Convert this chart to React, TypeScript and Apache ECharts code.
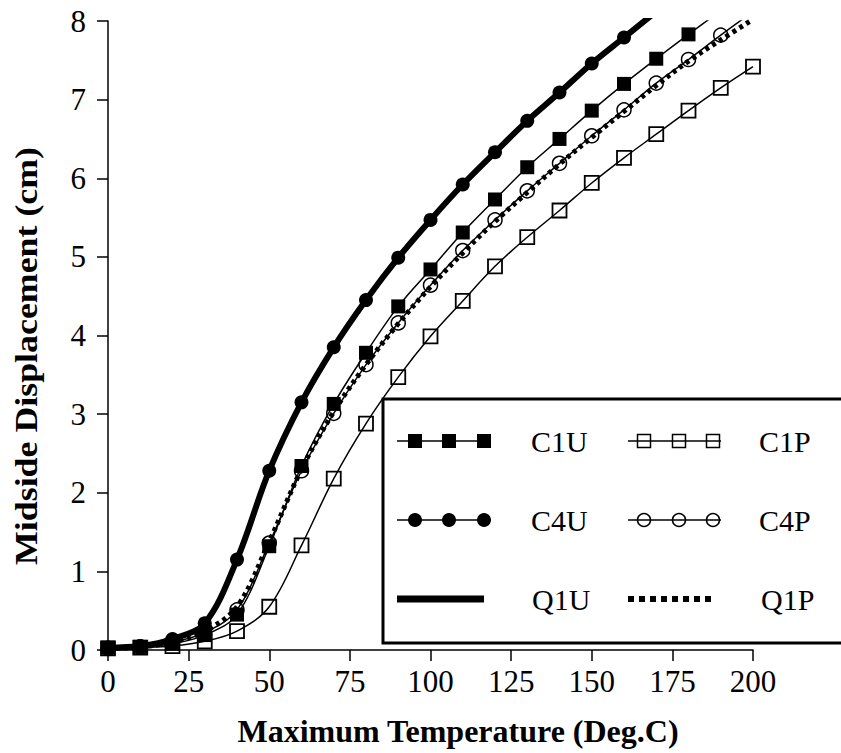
import React, { useEffect, useRef } from "react";
import * as echarts from "echarts";

const temps = [0, 10, 20, 30, 40, 50, 60, 70, 80, 90, 100, 110, 120, 130, 140, 150, 160, 170, 180, 190, 200];
const c1u = [0.03, 0.04, 0.08, 0.19, 0.45, 1.32, 2.34, 3.13, 3.78, 4.37, 4.84, 5.31, 5.73, 6.14, 6.5, 6.86, 7.2, 7.52, 7.83, 8.13, 8.42];
const c4u = [0.03, 0.05, 0.14, 0.34, 1.15, 2.28, 3.15, 3.85, 4.45, 4.99, 5.47, 5.92, 6.33, 6.73, 7.09, 7.46, 7.79, 8.12, 8.44, 8.75, 9.05];
const q1u = [0.03, 0.05, 0.14, 0.34, 1.15, 2.28, 3.15, 3.85, 4.45, 4.99, 5.47, 5.92, 6.33, 6.73, 7.09, 7.46, 7.79, 8.12, 8.44, 8.75, 9.05];
const c1p = [0.02, 0.03, 0.05, 0.11, 0.24, 0.55, 1.33, 2.18, 2.88, 3.47, 3.99, 4.44, 4.88, 5.25, 5.59, 5.94, 6.26, 6.56, 6.86, 7.15, 7.42];
const c4p = [0.02, 0.04, 0.1, 0.22, 0.51, 1.36, 2.28, 3.01, 3.63, 4.16, 4.64, 5.08, 5.47, 5.84, 6.19, 6.54, 6.87, 7.21, 7.51, 7.82, 8.12];
const q1p = [0.02, 0.04, 0.1, 0.24, 0.55, 1.38, 2.3, 3.03, 3.63, 4.15, 4.62, 5.05, 5.45, 5.82, 6.18, 6.52, 6.85, 7.18, 7.49, 7.76, 8.02];

const xTicks = [0, 25, 50, 75, 100, 125, 150, 175, 200];
const yTicks = [0, 1, 2, 3, 4, 5, 6, 7, 8];
const xTitle = "Maximum Temperature (Deg.C)";
const yTitle = "Midside Displacement (cm)";
const legendNames = ["C1U", "C1P", "C4U", "C4P", "Q1U", "Q1P"];

const FONT = '"Liberation Serif", "Times New Roman", serif';

const pairs = (ys: number[]) => temps.map((t, i) => [t, ys[i]]);

export default function App() {
  const ref = useRef<HTMLDivElement>(null);
  useEffect(() => {
    if (!ref.current) return;
    const chart = echarts.init(ref.current, undefined, { renderer: "svg" });

    const rowY = [441, 520, 599];
    const col1 = [415, 449, 484];
    const col2 = [644, 679, 713];
    const legendText = (text: string, x: number, y: number) => ({
      type: "text",
      x,
      y,
      z: 110,
      style: { text, fontSize: 30, fontFamily: FONT, fill: "#000", align: "left", verticalAlign: "middle" },
    });
    const thin = (x1: number, x2: number, y: number) => ({
      type: "line",
      z: 105,
      shape: { x1, y1: y, x2, y2: y },
      style: { stroke: "#000", lineWidth: 1.5 },
    });

    const graphics: any[] = [
      {
        type: "rect",
        z: 100,
        shape: { x: 383, y: 399, width: 480, height: 244 },
        style: { fill: "#fff", stroke: "#000", lineWidth: 3 },
      },
      thin(397, 491, rowY[0]),
      ...col1.map((cx) => ({ type: "rect", z: 106, shape: { x: cx - 7, y: rowY[0] - 7, width: 14, height: 14 }, style: { fill: "#000" } })),
      legendText(legendNames[0], 531, rowY[0]),
      thin(628, 721, rowY[0]),
      ...col2.map((cx) => ({ type: "rect", z: 106, shape: { x: cx - 6.5, y: rowY[0] - 6.5, width: 13, height: 13 }, style: { fill: "none", stroke: "#000", lineWidth: 1.5 } })),
      legendText(legendNames[1], 759, rowY[0]),
      thin(397, 491, rowY[1]),
      ...col1.map((cx) => ({ type: "circle", z: 106, shape: { cx, cy: rowY[1], r: 7 }, style: { fill: "#000" } })),
      legendText(legendNames[2], 531, rowY[1]),
      thin(628, 721, rowY[1]),
      ...col2.map((cx) => ({ type: "circle", z: 106, shape: { cx, cy: rowY[1], r: 6.5 }, style: { fill: "none", stroke: "#000", lineWidth: 1.5 } })),
      legendText(legendNames[3], 759, rowY[1]),
      { type: "line", z: 105, shape: { x1: 397, y1: rowY[2], x2: 484, y2: rowY[2] }, style: { stroke: "#000", lineWidth: 7 } },
      legendText(legendNames[4], 532, rowY[2]),
      { type: "line", z: 105, shape: { x1: 628, y1: rowY[2], x2: 714, y2: rowY[2] }, style: { stroke: "#000", lineWidth: 6, lineDash: [6, 5] } },
      legendText(legendNames[5], 761, rowY[2]),
      {
        type: "text",
        x: 458,
        y: 731,
        style: { text: xTitle, fontSize: 32, fontWeight: "bold", fontFamily: FONT, fill: "#000", align: "center", verticalAlign: "middle" },
      },
      {
        type: "text",
        x: 26,
        y: 356,
        rotation: Math.PI / 2,
        scaleX: 1.12,
        style: { text: yTitle, fontSize: 32, fontWeight: "bold", fontFamily: FONT, fill: "#000", align: "center", verticalAlign: "middle" },
      },
    ];

    const lineBase = {
      type: "line",
      smooth: 0.35,
      showSymbol: true,
      clip: true,
    };

    chart.setOption({
      animation: false,
      backgroundColor: "#fff",
      grid: { left: 108, top: 21, right: 88, bottom: 103, containLabel: false },
      xAxis: {
        type: "value",
        min: 0,
        max: 200,
        interval: 25,
        axisLine: { show: true, lineStyle: { color: "#000", width: 1.5 } },
        axisTick: { show: true, inside: false, length: 11, lineStyle: { color: "#000", width: 1.5 } },
        axisLabel: {
          margin: 16,
          fontSize: 31,
          fontFamily: FONT,
          color: "#000",
          customValues: xTicks,
        },
        splitLine: { show: false },
      },
      yAxis: {
        type: "value",
        min: 0,
        max: 8,
        interval: 1,
        axisLine: { show: true, lineStyle: { color: "#000", width: 1.5 } },
        axisTick: { show: true, inside: false, length: 11, lineStyle: { color: "#000", width: 1.5 } },
        axisLabel: { margin: 22, fontSize: 31, fontFamily: FONT, color: "#000", customValues: yTicks },
        splitLine: { show: false },
      },
      graphic: graphics,
      series: [
        {
          ...lineBase,
          name: "C1P",
          data: pairs(c1p),
          symbol: "rect",
          symbolSize: 14,
          lineStyle: { color: "#000", width: 1.5 },
          itemStyle: { color: "rgba(0,0,0,0)", borderColor: "#000", borderWidth: 1.8 },
          z: 2,
        },
        {
          ...lineBase,
          name: "C4P",
          data: pairs(c4p),
          symbol: "circle",
          symbolSize: 14,
          lineStyle: { color: "#000", width: 1.5 },
          itemStyle: { color: "rgba(0,0,0,0)", borderColor: "#000", borderWidth: 1.5 },
          z: 3,
        },
        {
          ...lineBase,
          name: "Q1P",
          data: pairs(q1p),
          showSymbol: false,
          symbol: "none",
          lineStyle: { color: "#000", width: 5, type: [4, 4] },
          z: 4,
        },
        {
          ...lineBase,
          name: "C1U",
          data: pairs(c1u),
          symbol: "rect",
          symbolSize: 14,
          lineStyle: { color: "#000", width: 1.5 },
          itemStyle: { color: "#000" },
          z: 5,
        },
        {
          ...lineBase,
          name: "Q1U",
          data: pairs(q1u),
          showSymbol: false,
          symbol: "none",
          lineStyle: { color: "#000", width: 6 },
          z: 6,
        },
        {
          ...lineBase,
          name: "C4U",
          data: pairs(c4u),
          symbol: "circle",
          symbolSize: 14,
          lineStyle: { color: "#000", width: 1.5 },
          itemStyle: { color: "#000" },
          z: 7,
        },
      ],
    });
    return () => chart.dispose();
  }, []);
  return <div ref={ref} style={{ position: "fixed", left: 0, top: 0, width: 841, height: 753 }} />;
}
